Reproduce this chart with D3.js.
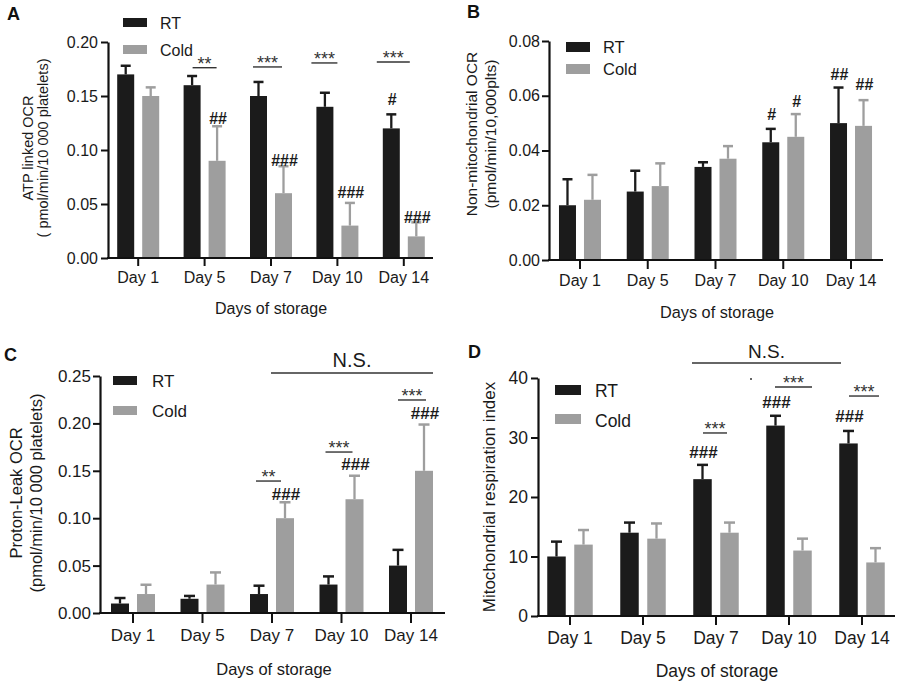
<!DOCTYPE html>
<html>
<head>
<meta charset="utf-8">
<script src="https://cdn.jsdelivr.net/npm/d3@7/dist/d3.min.js"></script>
<style>
  html, body { margin: 0; padding: 0; background: #fff; }
  svg { display: block; font-family: "Liberation Sans", Arial, Helvetica, sans-serif; }
</style>
</head>
<body>
<svg id="chart" width="900" height="687"></svg>
<script>
// ---------------- DATA ----------------
const days = ["Day 1", "Day 5", "Day 7", "Day 10", "Day 14"];
const seriesNames = ["RT", "Cold"];

// A: ATP linked OCR
const atpRT = [0.170, 0.160, 0.150, 0.140, 0.120];
const atpRTErr = [0.008, 0.0085, 0.013, 0.013, 0.013];
const atpCold = [0.150, 0.090, 0.060, 0.030, 0.020];
const atpColdErr = [0.008, 0.032, 0.025, 0.021, 0.013];
const atpRTHash = ["", "", "", "", "#"];
const atpColdHash = ["", "##", "###", "###", "###"];
const atpYTicks = [0, 0.05, 0.10, 0.15, 0.20];

// B: Non-mitochondrial OCR
const nonMitoRT = [0.020, 0.025, 0.034, 0.043, 0.050];
const nonMitoRTErr = [0.0095, 0.0076, 0.0017, 0.0049, 0.013];
const nonMitoCold = [0.022, 0.027, 0.037, 0.045, 0.049];
const nonMitoColdErr = [0.0091, 0.0083, 0.0046, 0.0083, 0.0094];
const nonMitoRTHash = ["", "", "", "#", "##"];
const nonMitoColdHash = ["", "", "", "#", "##"];
const nonMitoYTicks = [0, 0.02, 0.04, 0.06, 0.08];

// C: Proton-Leak OCR
const leakRT = [0.010, 0.015, 0.020, 0.030, 0.050];
const leakRTErr = [0.0058, 0.003, 0.0088, 0.0086, 0.0166];
const leakCold = [0.020, 0.030, 0.100, 0.120, 0.150];
const leakColdErr = [0.0098, 0.0128, 0.0168, 0.0248, 0.0488];
const leakRTHash = ["", "", "", "", ""];
const leakColdHash = ["", "", "###", "###", "###"];
const leakYTicks = [0, 0.05, 0.10, 0.15, 0.20, 0.25];

// D: Mitochondrial respiration index
const mriRT = [10, 14, 23, 32, 29];
const mriRTErr = [2.5, 1.7, 2.4, 1.65, 2.1];
const mriCold = [12, 13, 14, 11, 9];
const mriColdErr = [2.45, 2.55, 1.7, 2.0, 2.4];
const mriRTHash = ["", "", "###", "###", "###"];
const mriColdHash = ["", "", "", "", ""];
const mriYTicks = [0, 10, 20, 30, 40];

const xTitleText = "Days of storage";

// ---------------- STYLE / LAYOUT ----------------
const colors = { RT: "#1b1b1b", Cold: "#9e9e9e" };
const textColor = "#1a1a1a";

const panels = [
  {
    label: "A", labelPos: [7, 20],
    rt: atpRT, rtErr: atpRTErr, cold: atpCold, coldErr: atpColdErr,
    rtHash: atpRTHash, coldHash: atpColdHash,
    yTicks: atpYTicks, fmt: ".2f", yMax: 0.20,
    x0: 108, x1: 433, band: [105, 437], y0: 258, y1: 42,
    sub: 21, subPad: 0.32, capW: 10,
    yTick: 7, yPad: 3, xTick: 8, xPad: 6, tickFont: 16,
    titleFont: 14.5, titleY: 148,
    titleLines: [["ATP linked OCR", 33], ["( pmol/min/10 000 platelets)", 48]],
    xTitle: [271, 314, 16],
    legend: { x: 123, y: [18, 45], w: 24, h: 9, tx: 160, b: [29, 56], size: 16 },
    hashGap: { RT: [0, 0, 0, 0, 9], Cold: [0, 2, 0, 5, -1] },
    hashFont: 16,
    sig: [
      { day: "Day 5", text: "**", v: 0.1762, dx1: -12, dx2: 12 },
      { day: "Day 7", text: "***", v: 0.1769, dx1: -18, dx2: 11 },
      { day: "Day 10", text: "***", v: 0.1806, dx1: -26, dx2: 0 },
      { day: "Day 14", text: "***", v: 0.1815, dx1: -27, dx2: 6 }
    ],
    starFont: 18
  },
  {
    label: "B", labelPos: [467, 18],
    rt: nonMitoRT, rtErr: nonMitoRTErr, cold: nonMitoCold, coldErr: nonMitoColdErr,
    rtHash: nonMitoRTHash, coldHash: nonMitoColdHash,
    yTicks: nonMitoYTicks, fmt: ".2f", yMax: 0.08,
    x0: 549, x1: 883, band: [546.1, 884.9], y0: 260, y1: 41,
    sub: 21, subPad: 0.32, capW: 10,
    yTick: 7, yPad: 2, xTick: 9, xPad: 6, tickFont: 16,
    titleFont: 15.5, titleY: 134,
    titleLines: [["Non-mitochondrial OCR", 477], ["(pmol/min/10,000plts)", 496]],
    xTitle: [717, 318, 16.3],
    legend: { x: 566, y: [42, 64], w: 24, h: 10, tx: 603, b: [53, 75], size: 16.5 },
    hashGap: { RT: [0, 0, 0, 9, 8], Cold: [0, 0, 0, 7, 10] },
    hashFont: 16,
    sig: [],
    starFont: 18
  },
  {
    label: "C", labelPos: [4, 361],
    rt: leakRT, rtErr: leakRTErr, cold: leakCold, coldErr: leakColdErr,
    rtHash: leakRTHash, coldHash: leakColdHash,
    yTicks: leakYTicks, fmt: ".2f", yMax: 0.25,
    x0: 100, x1: 445, band: [98.25, 445.75], y0: 613, y1: 376,
    sub: 22, subPad: 0.3077, capW: 11,
    yTick: 7, yPad: 2, xTick: 10, xPad: 6, tickFont: 17,
    titleFont: 16.5, titleY: 493,
    titleLines: [["Proton-Leak OCR", 22], ["(pmol/min/10 000 platelets)", 42]],
    xTitle: [274, 675, 16.5],
    legend: { x: 113, y: [376, 406], w: 24, h: 9, tx: 152, b: [387, 417], size: 17 },
    hashGap: { RT: [0, 0, 0, 0, 0], Cold: [0, 0, 2, 6, 6] },
    hashFont: 17,
    sig: [
      { day: "Day 7", text: "**", v: 0.1392, dx1: -16, dx2: 9 },
      { day: "Day 10", text: "***", v: 0.1698, dx1: -16, dx2: 11 },
      { day: "Day 14", text: "***", v: 0.2247, dx1: -13, dx2: 15 }
    ],
    starFont: 18,
    ns: { from: "Day 7", dx1: -1, to: "Day 14", dx2: 22, v: 0.2532, size: 20, gap: 6 }
  },
  {
    label: "D", labelPos: [468, 358],
    rt: mriRT, rtErr: mriRTErr, cold: mriCold, coldErr: mriColdErr,
    rtHash: mriRTHash, coldHash: mriColdHash,
    yTicks: mriYTicks, fmt: "d", yMax: 40,
    x0: 538, x1: 895, band: [533.5, 898.5], y0: 616, y1: 378,
    sub: 22.75, subPad: 0.315, capW: 11,
    yTick: 7, yPad: 3, xTick: 9, xPad: 7, tickFont: 17.5,
    titleFont: 17, titleY: 497,
    titleLines: [["Mitochondrial respiration index", 495]],
    xTitle: [717, 677, 17.5],
    legend: { x: 555, y: [385, 414], w: 26, h: 10, tx: 595, b: [397, 427], size: 17.5 },
    hashGap: { RT: [0, 0, 7, 8, 9], Cold: [0, 0, 0, 0, 0] },
    hashFont: 17,
    sig: [
      { day: "Day 7", text: "***", v: 30.76, dx1: -13, dx2: 11 },
      { day: "Day 10", text: "***", v: 38.49, dx1: -14, dx2: 23 },
      { day: "Day 14", text: "***", v: 36.97, dx1: -13, dx2: 17 }
    ],
    starFont: 18,
    ns: { from: "Day 7", dx1: -24, to: "Day 14", dx2: -21, v: 42.52, size: 19, gap: 5 },
    dot: { day: "Day 7", dx: 35, v: 39.83 }
  }
];

// ---------------- DRAW ----------------
const svg = d3.select("#chart");
svg.append("rect").attr("width", 900).attr("height", 687).attr("fill", "#fff");

function drawPanel(p) {
  const g = svg.append("g");
  const x = d3.scaleBand().domain(days).range(p.band).paddingInner(0).paddingOuter(0);
  const xc = d => x(d) + x.bandwidth() / 2;
  const xs = d3.scaleBand().domain(seriesNames).range([-p.sub, p.sub]).paddingInner(p.subPad);
  const y = d3.scaleLinear().domain([0, p.yMax]).range([p.y0, p.y1]);

  const data = {
    RT: days.map((d, i) => ({ day: d, v: p.rt[i], e: p.rtErr[i], h: p.rtHash[i], i })),
    Cold: days.map((d, i) => ({ day: d, v: p.cold[i], e: p.coldErr[i], h: p.coldHash[i], i }))
  };

  seriesNames.forEach(s => {
    const sg = g.append("g");
    const bw = xs.bandwidth();
    sg.selectAll("line.err").data(data[s]).join("line")
      .attr("x1", d => xc(d.day) + xs(s) + bw / 2)
      .attr("x2", d => xc(d.day) + xs(s) + bw / 2)
      .attr("y1", d => y(d.v))
      .attr("y2", d => y(d.v + d.e))
      .attr("stroke", colors[s]).attr("stroke-width", 2.3);
    sg.selectAll("line.cap").data(data[s]).join("line")
      .attr("x1", d => xc(d.day) + xs(s) + bw / 2 - p.capW / 2)
      .attr("x2", d => xc(d.day) + xs(s) + bw / 2 + p.capW / 2)
      .attr("y1", d => y(d.v + d.e))
      .attr("y2", d => y(d.v + d.e))
      .attr("stroke", colors[s]).attr("stroke-width", 2.5);
    sg.selectAll("rect").data(data[s]).join("rect")
      .attr("x", d => xc(d.day) + xs(s))
      .attr("width", bw)
      .attr("y", d => y(d.v))
      .attr("height", d => y(0) - y(d.v))
      .attr("fill", colors[s]);
    sg.selectAll("text.hash").data(data[s].filter(d => d.h)).join("text")
      .attr("x", d => xc(d.day) + xs(s) + bw / 2 + 1)
      .attr("y", d => y(d.v + d.e) - p.hashGap[s][d.i])
      .attr("text-anchor", "middle")
      .attr("font-size", p.hashFont)
      .attr("font-weight", "bold")
      .attr("fill", textColor)
      .text(d => d.h);
  });

  const yAxis = d3.axisLeft(y).tickValues(p.yTicks).tickFormat(d3.format(p.fmt))
    .tickSize(p.yTick).tickPadding(p.yPad).tickSizeOuter(0);
  const ya = g.append("g").attr("transform", `translate(${p.x0},0)`).call(yAxis);
  ya.select(".domain").attr("stroke", "#111").attr("stroke-width", 2.2);
  ya.selectAll(".tick line").attr("stroke", "#111").attr("stroke-width", 2);
  ya.selectAll(".tick text").attr("font-size", p.tickFont).attr("fill", textColor)
    .attr("font-family", "'Liberation Sans', Arial, sans-serif");

  const xAxis = d3.axisBottom(x).tickSize(p.xTick).tickPadding(p.xPad).tickSizeOuter(0);
  const xa = g.append("g").attr("transform", `translate(0,${p.y0})`).call(xAxis);
  xa.select(".domain").attr("d", `M${p.x0 - 1},0H${p.x1}`).attr("stroke", "#111").attr("stroke-width", 2.2);
  xa.selectAll(".tick line").attr("stroke", "#111").attr("stroke-width", 2);
  xa.selectAll(".tick text").attr("font-size", p.tickFont).attr("fill", textColor)
    .attr("font-family", "'Liberation Sans', Arial, sans-serif");

  g.append("text").attr("x", p.xTitle[0]).attr("y", p.xTitle[1])
    .attr("text-anchor", "middle").attr("font-size", p.xTitle[2]).attr("fill", textColor)
    .text(xTitleText);
  p.titleLines.forEach(([t, bx]) => {
    g.append("text")
      .attr("transform", `translate(${bx},${p.titleY}) rotate(-90)`)
      .attr("text-anchor", "middle").attr("font-size", p.titleFont).attr("fill", textColor)
      .text(t);
  });

  seriesNames.forEach((s, k) => {
    g.append("rect").attr("x", p.legend.x).attr("y", p.legend.y[k])
      .attr("width", p.legend.w).attr("height", p.legend.h).attr("fill", colors[s]);
    g.append("text").attr("x", p.legend.tx).attr("y", p.legend.b[k])
      .attr("font-size", p.legend.size).attr("fill", textColor).text(s);
  });

  p.sig.forEach(a => {
    const c = xc(a.day);
    const yy = y(a.v);
    g.append("line").attr("x1", c + a.dx1).attr("x2", c + a.dx2)
      .attr("y1", yy).attr("y2", yy).attr("stroke", "#333").attr("stroke-width", 1.4);
    g.append("text").attr("x", c + (a.dx1 + a.dx2) / 2).attr("y", yy + 2)
      .attr("text-anchor", "middle").attr("font-size", p.starFont).attr("fill", "#333")
      .text(a.text);
  });

  if (p.ns) {
    const xa1 = xc(p.ns.from) + p.ns.dx1, xa2 = xc(p.ns.to) + p.ns.dx2;
    const yy = y(p.ns.v);
    g.append("line").attr("x1", xa1).attr("x2", xa2).attr("y1", yy).attr("y2", yy)
      .attr("stroke", "#333").attr("stroke-width", 1.4);
    g.append("text").attr("x", (xa1 + xa2) / 2).attr("y", yy - p.ns.gap)
      .attr("text-anchor", "middle").attr("font-size", p.ns.size).attr("fill", textColor)
      .text("N.S.");
  }
  if (p.dot) {
    g.append("circle").attr("cx", xc(p.dot.day) + p.dot.dx).attr("cy", y(p.dot.v))
      .attr("r", 1).attr("fill", "#333");
  }

  g.append("text").attr("x", p.labelPos[0]).attr("y", p.labelPos[1])
    .attr("font-size", 18).attr("font-weight", "bold").attr("fill", "#111").text(p.label);
}

panels.forEach(drawPanel);
</script>
</body>
</html>
